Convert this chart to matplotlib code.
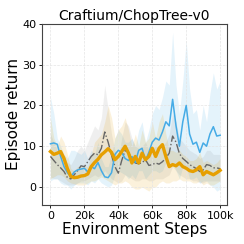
import numpy as np
import matplotlib
matplotlib.use('Agg')
import matplotlib.pyplot as plt
from matplotlib.ticker import FuncFormatter

# 环境步数 (每 2k 一个点)
steps = np.arange(0, 100001, 2000)

# 蓝色曲线
blue_mean = [10.6, 10.8, 10.5, 7.5, 5.0, 3.5, 2.5, 3.7, 4.2, 4.4, 4.6, 3.7, 5.0, 4.5, 6.0, 4.0, 2.5, 2.3, 3.5, 8.0,
             9.0, 8.5, 7.0, 6.5, 7.5, 6.0, 9.0, 9.5, 6.5, 8.5, 11.0, 12.0, 11.5, 13.5, 16.0, 15.0, 21.5, 15.0, 10.0, 16.0,
             20.0, 13.0, 10.5, 11.0, 8.5, 10.8, 10.0, 13.0, 14.8, 12.5, 12.7]
blue_hi = [22, 18, 12, 10, 8, 7, 9, 9, 8.5, 8, 9, 7, 9, 8, 11, 7, 5, 5, 8, 12,
           14, 13, 11, 11, 12, 10, 14, 16, 11, 14, 18, 20, 19, 22, 26, 25, 38, 25, 18, 26,
           36, 24, 18, 19, 14, 20, 16, 23, 28, 24, 26]
blue_lo = [1.5, 2, 2, 1, 0.5, 0.5, -0.5, 0.5, 1, 1, 1, 0.5, 1.5, 1, 2, 1, 0.5, 0, 0.5, 3,
           4, 3.5, 3, 2, 3, 2, 4, 4, 2, 3, 4, 4, 3.5, 4, 6, 5, 6, 4, 2, 5,
           5, 2, 2, 2.5, 1, 1.5, 1.5, 0.5, 0, -1, -0.5]

# 橙色曲线
orange_mean = [8.7, 8.0, 8.3, 8.7, 7.0, 4.5, 2.6, 2.3, 2.4, 2.7, 2.8, 3.2, 5.0, 6.0, 6.8, 7.9, 8.6, 9.4, 8.5, 6.7,
               7.5, 8.7, 10.0, 8.3, 5.9, 7.5, 5.9, 8.3, 6.7, 7.5, 9.5, 7.5, 9.5, 10.4, 7.5, 5.0, 5.5, 5.2, 5.9, 5.0,
               4.6, 4.0, 3.8, 4.2, 5.0, 3.0, 3.8, 3.4, 3.0, 3.5, 4.1]
orange_hi = [17, 12, 10, 12.5, 11, 8, 4.5, 4, 5, 5, 5, 5, 8, 11, 12, 13, 16, 20, 17, 12,
             14, 15, 17, 14, 10, 13, 10, 14, 11, 12, 16, 12, 16, 18, 13, 9, 9, 8.5, 9, 8,
             7.5, 6.5, 6.5, 7, 8.5, 6, 6.5, 6, 5.5, 6, 7]
orange_lo = [2, 2.5, 3, 3, 2.5, 1.5, 1, 0.8, 0.5, 0.5, 0.5, 1, 1.5, 1.5, 2, 2.5, 2, 1.5, 1, 0.5,
             1, 1, 1.5, 1, 0, -0.5, -0.5, 0, -0.5, -1, 0, 0, 1, 1.5, 1, 1, 1.5, 1.5, 2, 1.5,
             1.5, 1.5, 1, 1, 1.5, 0.5, 1, 0.5, 0.5, 1, 1.5]

# 灰色点划线
gray_mean = [7.5, 6.5, 5.5, 4.7, 3.8, 2.3, 2.0, 3.0, 4.0, 5.2, 5.0, 6.2, 7.5, 8.3, 7.9, 9.5, 13.5, 11.0, 7.8, 5.0,
             3.4, 6.5, 9.0, 8.5, 6.8, 5.9, 5.7, 6.0, 6.7, 5.3, 5.5, 5.9, 5.6, 6.2, 7.1, 8.3, 12.5, 11.0, 8.2, 7.0,
             6.3, 5.5, 5.0, 4.5, 3.8, 4.2, 5.5, 5.3, 4.7, 4.7, 4.5]
gray_hi = [13, 11, 9, 8, 7, 6, 5.5, 7, 9, 10, 9, 11, 13, 15, 14, 17, 25, 19, 13, 9,
           7, 12, 16, 15, 12, 10, 9.5, 10, 11, 9, 9.5, 10, 9, 10, 11, 13, 18, 16, 12, 11,
           10, 9, 8.5, 8, 7, 7.5, 9, 9, 8, 8, 8]
gray_lo = [2.5, 2, 2, 1.5, 1, 0.5, 0.5, 0.5, 1, 1.5, 1.5, 2, 2.5, 3, 2.5, 3, 4, 3, 2, 1.5,
           1, 1.5, 3, 2.5, 2, 1.5, 1.5, 2, 2, 1.5, 1.5, 2, 2, 2, 2.5, 3, 5, 4, 3, 2.5,
           2, 2, 1.5, 1.5, 1, 1, 1.5, 1.5, 1.5, 1.5, 1.5]

fig = plt.figure(figsize=(2.44, 2.44), dpi=100)
ax = fig.add_axes([0.172, 0.16, 0.758, 0.742])

c_blue = '#45ABE6'
c_orange = '#E69F00'
c_gray = '#666666'

ax.fill_between(steps, gray_lo, gray_hi, color='#999999', alpha=0.15, linewidth=0)
ax.fill_between(steps, blue_lo, blue_hi, color=c_blue, alpha=0.14, linewidth=0)
ax.fill_between(steps, orange_lo, orange_hi, color=c_orange, alpha=0.14, linewidth=0)

ax.plot(steps, gray_mean, color=c_gray, linestyle='-.', linewidth=1.0)
ax.plot(steps, blue_mean, color=c_blue, linewidth=1.1)
ax.plot(steps, orange_mean, color=c_orange, linewidth=2.4)

ax.set_xlim(-5000, 104000)
ax.set_ylim(-4.4, 40)
ax.set_xticks([0, 20000, 40000, 60000, 80000, 100000])
ax.set_yticks([0, 10, 20, 30, 40])
ax.xaxis.set_major_formatter(FuncFormatter(lambda v, p: '0' if v == 0 else f'{int(v / 1000)}k'))
ax.grid(True, linestyle='--', color='#e4e4e4', linewidth=0.5)
ax.tick_params(labelsize=8, length=2.5, width=0.6, pad=1.5)
for s in ax.spines.values():
    s.set_color('#444444')
    s.set_linewidth(0.8)

ax.set_title('Craftium/ChopTree-v0', fontsize=10, pad=3)
ax.set_xlabel('Environment Steps', fontsize=11, labelpad=1)
ax.set_ylabel('Episode return', fontsize=11, labelpad=1)

fig.savefig('out.png', dpi=100)
